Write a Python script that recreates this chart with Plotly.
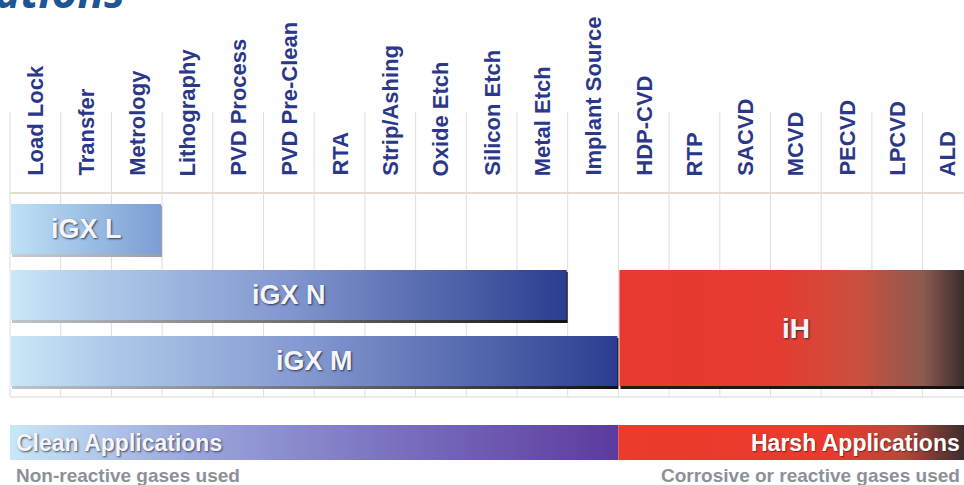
import plotly.graph_objects as go

# ---------------- data ----------------
CATEGORIES = ["Load Lock", "Transfer", "Metrology", "Lithography", "PVD Process",
              "PVD Pre-Clean", "RTA", "Strip/Ashing", "Oxide Etch", "Silicon Etch",
              "Metal Etch", "Implant Source", "HDP-CVD", "RTP", "SACVD", "MCVD",
              "PECVD", "LPCVD", "ALD"]
PRODUCTS = ["iGX L", "iGX N", "iGX M", "iH"]
PRODUCT_START = [0, 0, 0, 12]      # first category index covered
PRODUCT_END = [3, 11, 12, 19]      # category index after last covered
PRODUCT_ROW_FIRST = [0, 1, 2, 1]
PRODUCT_ROW_LAST = [0, 1, 2, 2]
BANDS = ["Clean Applications", "Harsh Applications"]
BAND_START = [0, 12]
BAND_END = [12, 19]
BAND_NOTES = ["Non-reactive gases used", "Corrosive or reactive gases used"]
TITLE = "Applications"

# ---------------- layout / style ----------------
W, H = 964, 485
COL_PX, LEFT_PX = 50.7, 10.0
ROW0_PX, ROW_STEP_PX, BAR_HALF_PX = 229, 66, 25
BAND_TOP_PX, BAND_BOT_PX = 425, 460
GRID_TOP_PX, HEAD_LINE_PX, GRID_BOT_PX = 112, 193, 397
LABEL_BOTTOM_PX = 178
NOTE_PX = 475
FONT = "Liberation Sans, Arial, sans-serif"
NAVY = "#2b388a"
PX = 1.0 / COL_PX  # one pixel in column units

PRODUCT_SCALES = [
    [[0, "#bfe1f6"], [1, "#7b9dd3"]],
    [[0, "#c8e8f8"], [0.15, "#aecbea"], [0.5, "#8296cf"], [0.8, "#4d62a8"], [1, "#2a3d90"]],
    [[0, "#c8e8f8"], [0.15, "#aecbea"], [0.5, "#8296cf"], [0.8, "#4d62a8"], [1, "#2a3d90"]],
    [[0, "#e8392e"], [0.45, "#e53b30"], [0.68, "#c9503f"], [0.86, "#8d5a4f"], [0.975, "#3a2d2d"], [1, "#342828"]],
]
SHADOW_SCALES = [
    [[0, "#c9ccd2"], [1, "#9a9ea8"]],
    [[0, "#c0c4cc"], [0.5, "#707070"], [1, "#111111"]],
    [[0, "#c0c4cc"], [0.5, "#707070"], [1, "#111111"]],
    [[0, "#2a1a1a"], [1, "#111111"]],
]
BAND_SCALES = [
    [[0, "#c8e8f8"], [0.3, "#9aa6dc"], [0.62, "#7b72c0"], [1, "#5c3a9e"]],
    [[0, "#ec3a2c"], [0.6, "#e83b2e"], [0.8, "#b8483a"], [0.97, "#3e2e2e"], [1, "#342828"]],
]
PRODUCT_FONT_SIZES = [27, 27, 27, 28]


def row_px(r):
    return ROW0_PX + ROW_STEP_PX * r


def rect(x0, x1, y0, y1):
    return [x0, x1, x1, x0, x0], [y0, y0, y1, y1, y0]


fig = go.Figure()

# product bars (shadow first, then bar)
for i, name in enumerate(PRODUCTS):
    x0 = PRODUCT_START[i] + PX
    x1 = PRODUCT_END[i] - PX
    y0 = row_px(PRODUCT_ROW_FIRST[i]) - BAR_HALF_PX
    y1 = row_px(PRODUCT_ROW_LAST[i]) + BAR_HALF_PX
    sx, sy = rect(x0 + PX, x1 + PX, y0 + 2, y1 + 3)
    fig.add_trace(go.Scatter(x=sx, y=sy, mode="lines", fill="toself",
                             line=dict(width=0), hoverinfo="skip", showlegend=False,
                             fillgradient=dict(type="horizontal", colorscale=SHADOW_SCALES[i])))
    bx, by = rect(x0, x1, y0, y1)
    fig.add_trace(go.Scatter(x=bx, y=by, mode="lines", fill="toself", name=name,
                             line=dict(width=0), hoverinfo="name", showlegend=False,
                             fillgradient=dict(type="horizontal", colorscale=PRODUCT_SCALES[i])))
    fig.add_annotation(x=(PRODUCT_START[i] + PRODUCT_END[i]) / 2, y=(y0 + y1) / 2,
                       text=f"<b>{name}</b>", showarrow=False,
                       font=dict(family=FONT, size=PRODUCT_FONT_SIZES[i], color="#f2f5fa",
                                 shadow="1px 1px 2px rgba(20,20,40,0.75)"))

# application bands
for i, name in enumerate(BANDS):
    bx, by = rect(BAND_START[i], BAND_END[i], BAND_TOP_PX, BAND_BOT_PX)
    fig.add_trace(go.Scatter(x=bx, y=by, mode="lines", fill="toself", name=name,
                             line=dict(width=0), hoverinfo="name", showlegend=False,
                             fillgradient=dict(type="horizontal", colorscale=BAND_SCALES[i])))

ymid = (BAND_TOP_PX + BAND_BOT_PX) / 2
fig.add_annotation(x=BAND_START[0], y=ymid, xanchor="left", xshift=4,
                   text=f"<b>{BANDS[0]}</b>", showarrow=False,
                   font=dict(family=FONT, size=23, color="#f4f6fa",
                             shadow="1px 1px 2px rgba(40,40,60,0.8)"))
fig.add_annotation(x=1, xref="paper", y=ymid, xanchor="right", xshift=-2,
                   text=f"<b>{BANDS[1]}</b>", showarrow=False,
                   font=dict(family=FONT, size=23, color="#ffffff",
                             shadow="1px 1px 1px rgba(60,20,20,0.6)"))
fig.add_annotation(x=BAND_START[0], y=NOTE_PX, xanchor="left", xshift=4,
                   text=f"<b>{BAND_NOTES[0]}</b>", showarrow=False,
                   font=dict(family=FONT, size=19, color="#8d9098"))
fig.add_annotation(x=1, xref="paper", y=NOTE_PX, xanchor="right", xshift=-2,
                   text=f"<b>{BAND_NOTES[1]}</b>", showarrow=False,
                   font=dict(family=FONT, size=19, color="#8d9098"))

# category headers
for i, cat in enumerate(CATEGORIES):
    fig.add_annotation(x=i + 0.5, y=LABEL_BOTTOM_PX, yanchor="bottom", textangle=-90,
                       text=f"<b>{cat}</b>", showarrow=False,
                       font=dict(family=FONT, size=22, color=NAVY))

# title (mostly cut off above the frame)
fig.add_annotation(x=127 / W, xref="paper", y=1, yref="paper", xanchor="right",
                   yanchor="middle", yshift=9, text=f"<b>{TITLE}</b>", showarrow=False,
                   font=dict(family="Open Sans, sans-serif", size=44, color="#1d5595",
                             style="italic"))

# table grid
shapes = []
for k in range(len(CATEGORIES) + 1):
    shapes.append(dict(type="line", layer="below", x0=k, x1=k, y0=GRID_TOP_PX, y1=GRID_BOT_PX,
                       line=dict(color="#e2dedb", width=1)))
shapes.append(dict(type="line", layer="below", x0=0, x1=len(CATEGORIES), y0=HEAD_LINE_PX,
                   y1=HEAD_LINE_PX, line=dict(color="#e6dcd2", width=2)))
shapes.append(dict(type="line", layer="below", x0=0, x1=len(CATEGORIES), y0=GRID_BOT_PX,
                   y1=GRID_BOT_PX, line=dict(color="#e4e4e4", width=1.5)))

fig.update_layout(
    width=W, height=H, autosize=False,
    margin=dict(l=0, r=0, t=0, b=0, pad=0),
    paper_bgcolor="white", plot_bgcolor="white",
    shapes=shapes,
    xaxis=dict(range=[-LEFT_PX / COL_PX, (W - LEFT_PX) / COL_PX], visible=False,
               showgrid=False, zeroline=False, fixedrange=True),
    yaxis=dict(range=[H, 0], visible=False, showgrid=False, zeroline=False,
               fixedrange=True),
    showlegend=False,
)

fig.write_html("out.html", config={"displayModeBar": False},
               post_script="document.body.style.margin='0';document.body.style.overflow='hidden';")
